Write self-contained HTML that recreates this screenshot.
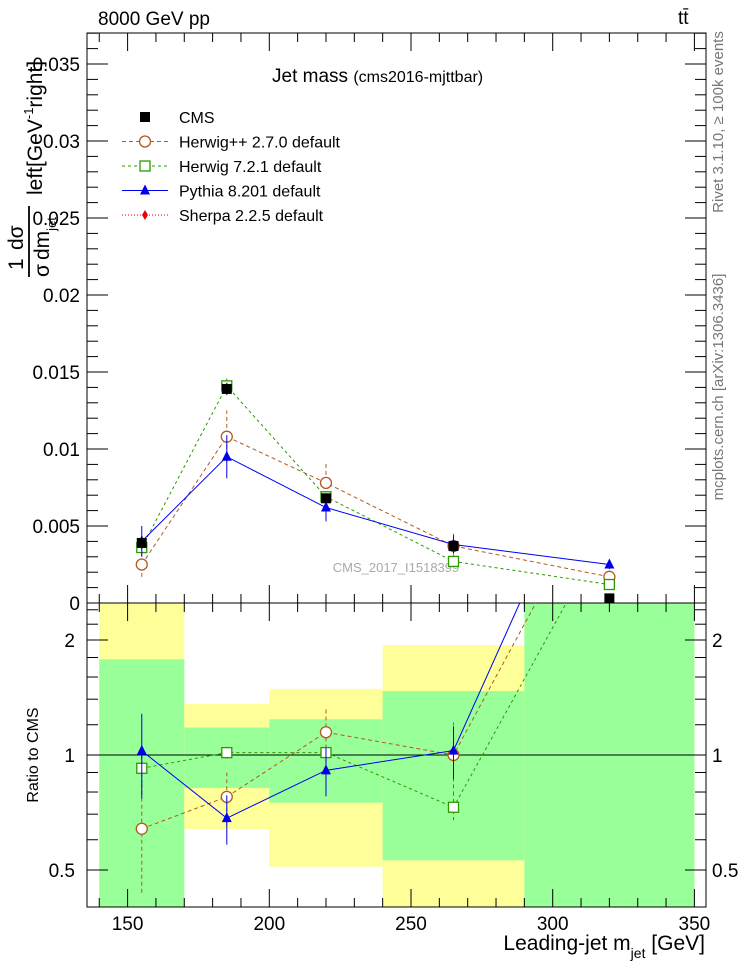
<!DOCTYPE html>
<html><head><meta charset="utf-8"><style>
html,body{margin:0;padding:0;background:#fff;}
svg{display:block;font-family:"Liberation Sans",sans-serif;}
</style></head><body>
<svg id="c" width="746" height="972" viewBox="0 0 746 972">
<text x="98" y="25" font-size="19">8000 GeV pp</text>
<text x="678" y="24" font-size="19">tt̄</text>
<text x="272" y="82" font-size="19">Jet mass <tspan font-size="16">(cms2016-mjttbar)</tspan></text>
<text transform="translate(723,122) rotate(-90)" font-size="15" fill="#777" text-anchor="middle">Rivet 3.1.10, ≥ 100k events</text>
<text transform="translate(723,387) rotate(-90)" font-size="15" fill="#777" text-anchor="middle">mcplots.cern.ch [arXiv:1306.3436]</text>
<text x="396" y="572" font-size="13" fill="#aaa" text-anchor="middle">CMS_2017_I1518399</text>
<g transform="rotate(-90)">
<text x="-270" y="23" font-size="21">1</text>
<text x="-250" y="23" font-size="21">dσ</text>
<line x1="-277" x2="-206" y1="29" y2="29" stroke="#000" stroke-width="1.8"/>
<text x="-277" y="49" font-size="21">σ</text>
<text x="-260" y="49" font-size="21">dm<tspan font-size="13" dy="7">jet</tspan></text>
<text x="-195" y="42" font-size="21">left[GeV<tspan font-size="13" dy="-9">-1</tspan><tspan dy="9">right]</tspan></text>
</g>
<text transform="translate(38,755) rotate(-90)" font-size="16" text-anchor="middle">Ratio to CMS</text>
<text x="705" y="950" font-size="21" text-anchor="end">Leading-jet m<tspan font-size="14" dy="8">jet</tspan><tspan dy="-8"> [GeV]</tspan></text>
<g id="bands"></g><g id="axes"></g><g id="series"></g><g id="legend"></g>
</svg>
<script>
const xCats=[155,185,220,265,320];
const cms=[0.0039,0.0139,0.0068,0.0037,0.0003];
const cmsErr=[0.0004,0.0004,0.0003,0.0003,0.0001];
const hpp=[0.0025,0.0108,0.0078,0.0037,0.0017];
const hppErr=[0.0008,0.0017,0.0013,0.0008,0.0002];
const h7=[0.0036,0.0141,0.0069,0.0027,0.0012];
const h7Err=[0.0003,0.0005,0.0003,0.0002,0.0001];
const py=[0.0040,0.0095,0.0062,0.0038,0.0025];
const pyErr=[0.0010,0.0014,0.0009,0.0006,0.0003];
const binEdges=[140,170,200,240,290,350];
const yellowLo=[0.3,0.64,0.51,0.3,0.3];
const yellowHi=[3,1.36,1.49,1.94,3];
const greenLo=[0.3,0.82,0.75,0.53,0.3];
const greenHi=[1.78,1.18,1.24,1.47,3];
const yTicks=[0,0.005,0.01,0.015,0.02,0.025,0.03,0.035];
const yTickLabels=["0","0.005","0.01","0.015","0.02","0.025","0.03","0.035"];
const xTicks=[150,200,250,300,350];
const rTicks=[0.5,1,2];
const NS="http://www.w3.org/2000/svg";
const L=87,R=706,T=33,MB=603,RB=907;
const X=v=>127.6+(v-150)*2.834;
const Y=v=>603-v*15400;
const RY=r=>755-382*Math.log10(r);
function mk(p,tag,at){const e=document.createElementNS(NS,tag);for(const k in at)e.setAttribute(k,at[k]);p.appendChild(e);return e;}
const bands=document.getElementById('bands'),axes=document.getElementById('axes'),ser=document.getElementById('series'),leg=document.getElementById('legend');
const clampR=r=>Math.min(Math.max(RY(r),MB),RB);
for(let i=0;i<5;i++){
 const x1=X(binEdges[i]),x2=X(binEdges[i+1]);
 let e=mk(bands,'rect',{x:x1,y:clampR(yellowHi[i]),width:x2-x1,height:clampR(yellowLo[i])-clampR(yellowHi[i]),fill:'#ffff99'});
 
 
 e=mk(bands,'rect',{x:x1,y:clampR(greenHi[i]),width:x2-x1,height:clampR(greenLo[i])-clampR(greenHi[i]),fill:'#99ff99'});
 
 
}
mk(axes,'rect',{x:L,y:T,width:R-L,height:MB-T,fill:'none',stroke:'#000','stroke-width':1});
mk(axes,'rect',{x:L,y:MB,width:R-L,height:RB-MB,fill:'none',stroke:'#000','stroke-width':1});
mk(axes,'line',{x1:L,x2:R,y1:RY(1),y2:RY(1),stroke:'#000','stroke-width':1});
yTicks.forEach((v,i)=>{const y=Y(v);mk(axes,'line',{x1:L,x2:L+21,y1:y,y2:y,stroke:'#000'});mk(axes,'line',{x1:R,x2:R-21,y1:y,y2:y,stroke:'#000'});
 const t=mk(axes,'text',{x:80,y:y+7,'font-size':19,'text-anchor':'end'});t.textContent=yTickLabels[i];
 
 
 for(let k=1;k<5;k++){const yy=Y(v+k*0.001);if(yy>T){mk(axes,'line',{x1:L,x2:L+11,y1:yy,y2:yy,stroke:'#000'});mk(axes,'line',{x1:R,x2:R-11,y1:yy,y2:yy,stroke:'#000'});}}
});
for(let v=140;v<=350;v+=10){const x=X(v),big=v%50==0,h=big?18:9;
 [[MB,-1],[T,1],[RB,-1],[MB,1]].forEach(([b,d])=>mk(axes,'line',{x1:x,x2:x,y1:b,y2:b+d*h,stroke:'#000'}));}
xTicks.forEach(v=>{const t=mk(axes,'text',{x:X(v),y:930,'font-size':19,'text-anchor':'middle'});t.textContent=v;
 
 });
[0.4,0.5,0.6,0.7,0.8,0.9,1,2].forEach(r=>{const y=RY(r),h=rTicks.includes(r)?21:11;mk(axes,'line',{x1:L,x2:L+h,y1:y,y2:y,stroke:'#000'});mk(axes,'line',{x1:R,x2:R-h,y1:y,y2:y,stroke:'#000'});});
for(let r=1.2;r<2.5;r+=0.2){const y=RY(r);if(y>MB){mk(axes,'line',{x1:L,x2:L+11,y1:y,y2:y,stroke:'#000'});mk(axes,'line',{x1:R,x2:R-11,y1:y,y2:y,stroke:'#000'});}}
rTicks.forEach(r=>{const y=RY(r)+7;let t=mk(axes,'text',{x:75,y:y,'font-size':19,'text-anchor':'end'});t.textContent=r;
 
 
 t=mk(axes,'text',{x:712,y:y,'font-size':19});t.textContent=r;
 
 });
const defs=mk(document.getElementById('c'),'defs',{});
const c1=mk(defs,'clipPath',{id:'cm'});mk(c1,'rect',{x:L,y:T,width:R-L,height:MB-T});
const c2=mk(defs,'clipPath',{id:'cr'});mk(c2,'rect',{x:L,y:MB,width:R-L,height:RB-MB});
const gm=mk(ser,'g',{'clip-path':'url(#cm)'}),gr=mk(ser,'g',{'clip-path':'url(#cr)'});
function marker(g,type,x,y,col){
 if(type=='circle')return mk(g,'circle',{cx:x,cy:y,r:5.5,fill:'#fff',stroke:col,'stroke-width':1.3});
 if(type=='square')return mk(g,'rect',{x:x-5,y:y-5,width:10,height:10,fill:'#fff',stroke:col,'stroke-width':1.3});
 if(type=='tri')return mk(g,'polygon',{points:`${x},${y-6} ${x-5},${y+4} ${x+5},${y+4}`,fill:col});
 if(type=='fsq')return mk(g,'rect',{x:x-5,y:y-5,width:10,height:10,fill:col});
}
const models=[['herwigpp',hpp,hppErr,'#b35a1f','4,3','circle'],['herwig7',h7,h7Err,'#2a9a00','3,3','square'],['pythia',py,pyErr,'#0000ee','','tri']];
models.forEach(([n,vals,errs,col,dash,mt])=>{
 let p=mk(gm,'polyline',{points:xCats.map((x,i)=>X(x)+','+Y(vals[i])).join(' '),fill:'none',stroke:col,'stroke-dasharray':dash,'stroke-width':1});
 
 
 const rat=vals.map((v,i)=>v/cms[i]);
 p=mk(gr,'polyline',{points:xCats.map((x,i)=>X(x)+','+RY(rat[i])).join(' '),fill:'none',stroke:col,'stroke-dasharray':dash,'stroke-width':1});
 
 
 xCats.forEach((x,i)=>{
  const cx=X(x);
  mk(gm,'line',{x1:cx,x2:cx,y1:Y(vals[i]-errs[i]),y2:Y(vals[i]+errs[i]),stroke:col,'stroke-dasharray':dash});
  let m=marker(gm,mt,cx,Y(vals[i]),col);
  
  
  const re=errs[i]/cms[i];
  mk(gr,'line',{x1:cx,x2:cx,y1:RY(Math.max(rat[i]-re,0.01)),y2:RY(rat[i]+re),stroke:col,'stroke-dasharray':dash});
  m=marker(gr,mt,cx,RY(rat[i]),col);
  
  
 });
});
xCats.forEach((x,i)=>{const cx=X(x);
 mk(gm,'line',{x1:cx,x2:cx,y1:Y(cms[i]-cmsErr[i]),y2:Y(cms[i]+cmsErr[i]),stroke:'#000'});
 const m=marker(gm,'fsq',cx,Y(cms[i]),'#000');
 
 });
const items=[['CMS','#000','','fsq'],['Herwig++ 2.7.0 default','#b35a1f','4,3','circle'],['Herwig 7.2.1 default','#2a9a00','3,3','square'],['Pythia 8.201 default','#0000ee','','tri'],['Sherpa 2.2.5 default','#ee0000','1,2','dia']];
items.forEach(([lab,col,dash,mt],i)=>{const y=117+i*24.5;const g=mk(leg,'g',{});
 
 
 if(i>0)mk(g,'line',{x1:122,x2:168,y1:y,y2:y,stroke:col,'stroke-dasharray':dash});
 if(mt=='dia')mk(g,'polygon',{points:`145,${y-5} 148,${y} 145,${y+5} 142,${y}`,fill:col});else marker(g,mt,145,y,col);
 const t=mk(g,'text',{x:179,y:y+6,'font-size':16});t.textContent=lab;});
</script>
</body></html>
